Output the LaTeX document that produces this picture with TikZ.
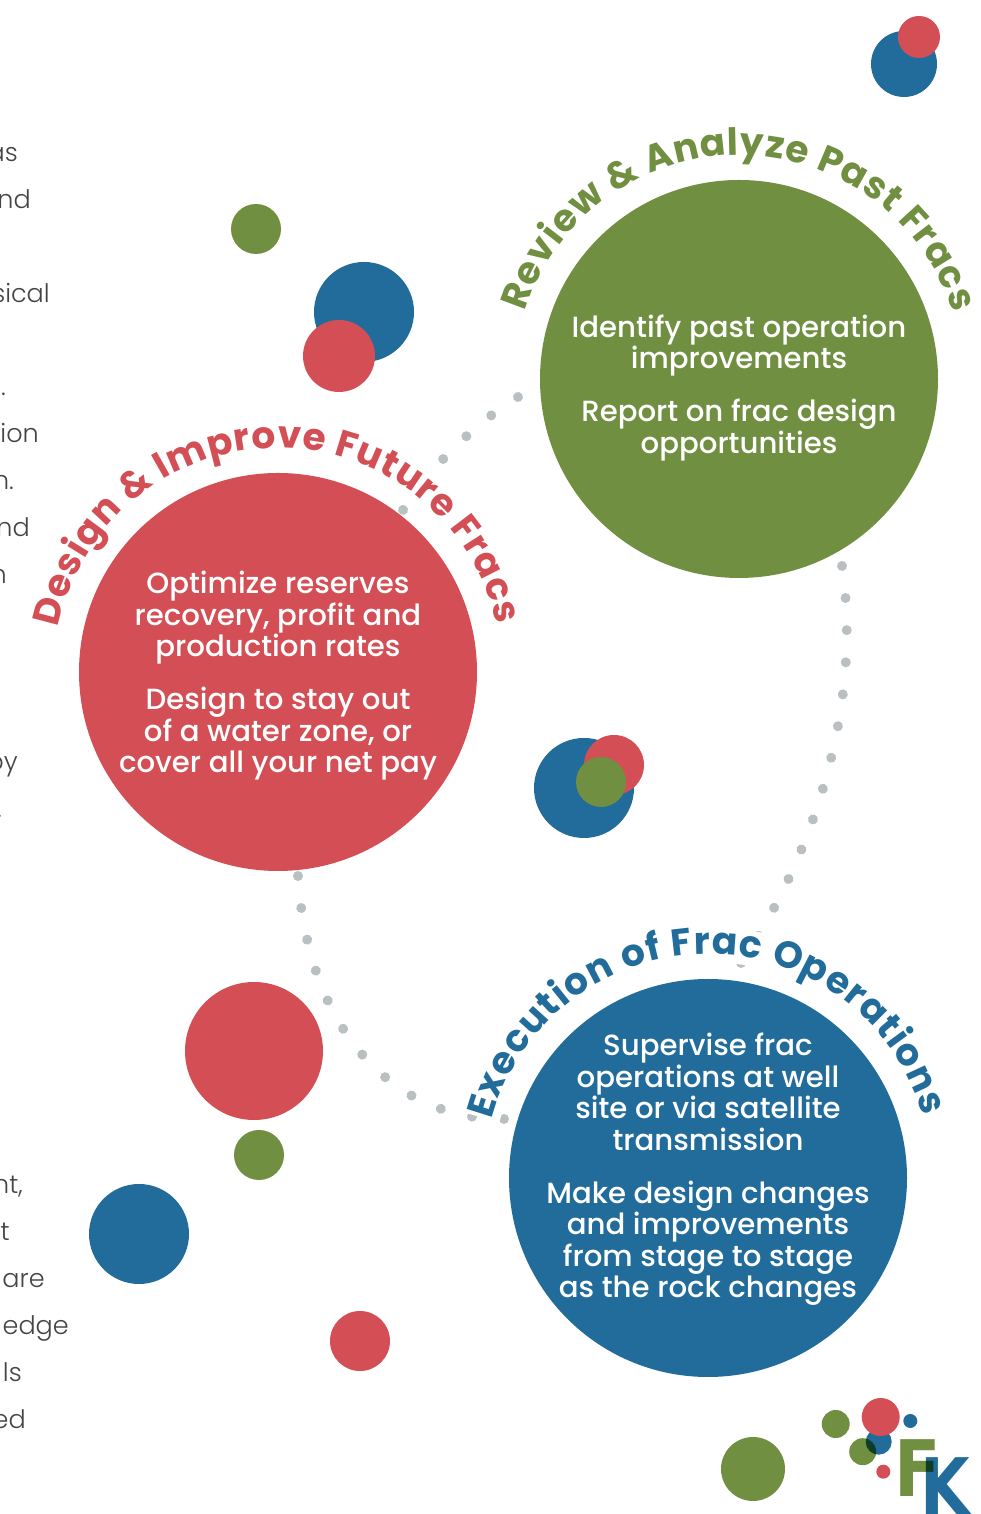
\documentclass[tikz,border=0pt]{standalone}
\usepackage{fontspec}
\setmainfont{Poppins Light}
\newfontfamily\medfont{Poppins Medium}
\newfontfamily\titlefont{Poppins}
\newfontfamily\logofont{DejaVu Sans}
\usetikzlibrary{decorations.text,decorations.markings,calc}
\definecolor{fkgreen}{HTML}{708F41}
\definecolor{fkred}{HTML}{D34F55}
\definecolor{fkblue}{HTML}{216C9A}
\definecolor{dotgrey}{HTML}{BABFC1}
\definecolor{bodygrey}{HTML}{444444}
\tikzset{
  x=1pt,y=1pt,
  disc/.style={circle,inner sep=0pt,outer sep=0pt,minimum size=#1,draw=none},
  gdisc/.style={disc=#1,fill=fkgreen},
  rdisc/.style={disc=#1,fill=fkred},
  bdisc/.style={disc=#1,fill=fkblue},
  enddot/.style={disc=10,fill=dotgrey},
  bodytext/.style={anchor=base east,inner sep=0pt,text=bodygrey,font=\fontsize{25.5}{30}\selectfont},
  intext/.style={text=white,align=center,inner sep=0pt,font=\medfont\fontsize{29.2}{31.5}\selectfont},
  logoletter/.style={anchor=base west,inner sep=0pt,font=\logofont\bfseries\fontsize{78}{78}\selectfont},
  dotted path/.style={postaction={decorate},decoration={markings,
    mark=between positions 0 and 1 step #1 with {\fill[dotgrey] (0,0) circle (5);}}},
}
\newcommand{\arctitle}[6]{% centre, radius, start, end, colour, text
  \draw[white,line width=35] ($(#1)+(#3:233.5)$) arc[start angle=#3,end angle=#4,radius=233.5];
  \path[decorate,decoration={text along path,text align={fit to path},
    text={|\titlefont\bfseries\fontsize{37.5}{38}\selectfont\color{#5}|#6}}]
    ($(#1)+(#3:#2)$) arc[start angle=#3,end angle=#4,radius=#2];}
\begin{document}
\begin{tikzpicture}
\useasboundingbox (0,0) rectangle (980,1514);
% connectors (their ends stand by the circles, which are drawn over them)
\coordinate (g1) at (518,1117);
\coordinate (r1) at (403,1004);
\coordinate (g2) at (842,948);
\node[enddot] (b2) at (741,551) {};
\coordinate (r3) at (298,638);
\node[enddot] (b3) at (504,395) {};
\path[dotted path=0.1999] (g1) .. controls (477,1092) and (432,1049) .. (r1);
\path[dotted path=0.07690] (g2) .. controls (862,814) and (817,664) .. (b2.center);
\path[dotted path=0.09089] (r3) .. controls (308,484) and (393,394) .. (b3.center);
% main circles
\node[gdisc=398] (green) at (739,1135) {};
\node[rdisc=398] (red) at (278,842) {};
\node[bdisc=398] (blue) at (708,336) {};
% decorative circles
\node[bdisc=66] (c1) at (904,1450) {};
\node[rdisc=42] (c2) at (919,1477) {};
\node[gdisc=50] (c3) at (256,1285) {};
\node[bdisc=100] (c4) at (364,1202) {};
\node[rdisc=72] (c5) at (339,1158) {};
\node[bdisc=100] (c6) at (584,726) {};
\node[rdisc=60] (c7) at (614,749) {};
\node[gdisc=50] (c8) at (601,732) {};
\node[rdisc=138] (c9) at (254,463) {};
\node[gdisc=50] (c10) at (259,359) {};
\node[bdisc=100] (c11) at (139,280) {};
\node[rdisc=60] (c12) at (360,173) {};
\node[gdisc=64] (c13) at (753,45) {};
% body text cut by the page edge
\node[bodytext] (t1) at (18,1352.5) {as};
\node[bodytext] (t2) at (31,1305.5) {nd};
\node[bodytext] (t3) at (50,1211.5) {sical};
\node[bodytext] (t4) at (6,1118.5) {.};
\node[bodytext] (t5) at (39,1071.5) {ion};
\node[bodytext] (t6) at (14,1024.5) {n.};
\node[bodytext] (t7) at (30,977.5) {nd};
\node[bodytext] (t8) at (7,930.5) {n};
\node[bodytext] (t9) at (18,743) {by};
\node[bodytext] (t10) at (2,696.5) {.};
\node[bodytext] (t11) at (23,320.5) {nt,};
\node[bodytext] (t12) at (10,273.5) {t};
\node[bodytext] (t13) at (45,226.5) {are};
\node[bodytext] (t14) at (69,179.5) {edge};
\node[bodytext] (t15) at (22,132.5) {ls};
\node[bodytext] (t16) at (26,85.5) {ed};
% inner text
\node[intext] (tg) at (739,1126) {Identify past operation\\improvements\\[21.5pt]Report on frac design\\opportunities};
\node[intext] (tr) at (278,838) {Optimize reserves\\recovery, profit and\\production rates\\[21.5pt]Design to stay out\\of a water zone, or\\cover all your net pay};
\node[intext] (tb) at (708,344.5) {Supervise frac\\operations at well\\site or via satellite\\transmission\\[21.5pt]Make design changes\\and improvements\\from stage to stage\\as the rock changes};
% curved titles
\arctitle{green}{224}{162.6}{17.2}{fkgreen}{Review {\&} Analyze Past Fracs}
\arctitle{red}{224}{168.7}{12.2}{fkred}{Design {\&} Improve Future Fracs}
\arctitle{blue}{224}{165}{16}{fkblue}{Execution of Frac Operations}
% logo
\node[gdisc=28] (l1) at (835.7,90) {};
\node[bdisc=26] (l2) at (878.7,72.3) {};
\begin{scope}[blend mode=multiply]
\node[gdisc=27] (l3) at (862.7,62.3) {};
\end{scope}
\node[rdisc=38] (l4) at (880.7,97) {};
\node[bdisc=14] (l5) at (910.3,93) {};
\node[rdisc=14] (l6) at (883.3,42.3) {};
\node[logoletter,text=fkgreen,xscale=.87] (lf) at (894,17.3) {F};
\begin{scope}[blend mode=multiply]
\node[logoletter,text=fkblue,xscale=.82] (lk) at (920,-0.7) {K};
\end{scope}
\end{tikzpicture}
\end{document}
